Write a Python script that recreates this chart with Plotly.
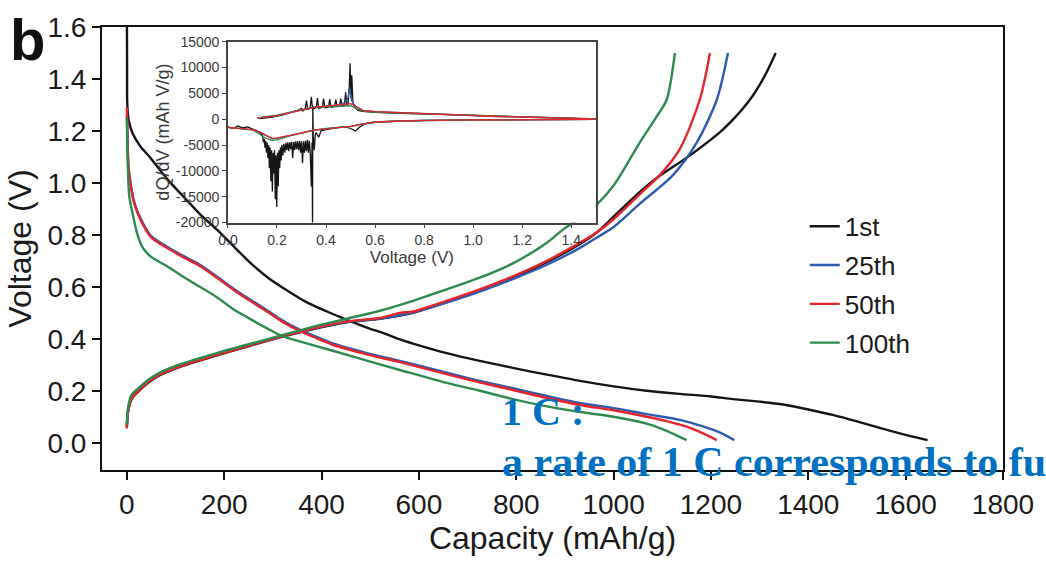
import plotly.graph_objects as go

# ---- Main panel: galvanostatic discharge/charge profiles ----
cycle_names = ["1st", "25th", "50th", "100th"]
cycle_colors = ["#151515", "#2F5CB0", "#E3262D", "#2E8A4F"]

# 1st cycle
dis1_cap = [0, 0.5, 1, 4, 12, 28, 47, 70, 90, 120, 150, 185, 220, 255, 290, 330, 370, 411, 450,
            490, 530, 561, 600, 657, 725, 793, 863, 931, 1000, 1068, 1136, 1200, 1245, 1300,
            1348, 1400, 1450, 1500, 1554, 1600, 1645]
dis1_v = [1.75, 1.45, 1.30, 1.24, 1.19, 1.14, 1.10, 1.045, 1.0, 0.94, 0.88, 0.82, 0.755, 0.69,
          0.635, 0.585, 0.54, 0.505, 0.475, 0.445, 0.42, 0.398, 0.375, 0.345, 0.315, 0.288,
          0.262, 0.238, 0.217, 0.2, 0.188, 0.178, 0.168, 0.158, 0.147, 0.128, 0.107, 0.082,
          0.053, 0.03, 0.01]
chg1_cap = [0, 1, 3, 10, 27, 45, 68, 115, 185, 253, 321, 390, 458, 520, 588, 657, 725, 793, 863,
            931, 966, 1000, 1054, 1088, 1157, 1225, 1280, 1310, 1333]
chg1_v = [0.06, 0.09, 0.125, 0.168, 0.203, 0.233, 0.26, 0.296, 0.336, 0.373, 0.408, 0.44, 0.465,
          0.477, 0.5, 0.54, 0.585, 0.635, 0.695, 0.765, 0.81, 0.87, 0.965, 1.018, 1.106, 1.206,
          1.32, 1.41, 1.5]

# 25th cycle
dis25_cap = [0, 1, 2, 4, 8, 14, 22, 33, 50, 82, 115, 150, 185, 218, 250, 288, 320, 355, 390, 423,
             493, 561, 657, 725, 793, 863, 931, 1000, 1068, 1136, 1180, 1220, 1248]
dis25_v = [1.26, 1.2, 1.12, 1.05, 0.995, 0.935, 0.89, 0.845, 0.795, 0.755, 0.72, 0.685, 0.64,
           0.595, 0.555, 0.51, 0.47, 0.435, 0.407, 0.382, 0.345, 0.315, 0.27, 0.238, 0.21, 0.18,
           0.153, 0.133, 0.11, 0.088, 0.065, 0.038, 0.01]
chg25_cap = [0, 1, 3, 10, 27, 45, 68, 115, 185, 253, 321, 390, 458, 520, 588, 657, 725, 793, 863,
             931, 966, 1000, 1054, 1122, 1171, 1212, 1235]
chg25_v = [0.06, 0.095, 0.13, 0.172, 0.207, 0.237, 0.264, 0.3, 0.34, 0.376, 0.41, 0.442, 0.466,
           0.478, 0.502, 0.54, 0.582, 0.63, 0.685, 0.75, 0.79, 0.83, 0.92, 1.03, 1.156, 1.32, 1.5]

# 50th cycle
dis50_cap = [0, 1, 2, 4, 8, 14, 22, 33, 50, 82, 115, 150, 185, 218, 250, 288, 320, 355, 390, 423,
             493, 561, 657, 725, 793, 863, 931, 1000, 1068, 1109, 1150, 1185, 1212]
dis50_v = [1.29, 1.22, 1.12, 1.05, 0.99, 0.93, 0.885, 0.84, 0.79, 0.75, 0.715, 0.68, 0.635, 0.59,
           0.55, 0.505, 0.465, 0.43, 0.402, 0.377, 0.34, 0.31, 0.264, 0.232, 0.203, 0.172, 0.145,
           0.125, 0.1, 0.083, 0.062, 0.035, 0.01]
chg50_cap = [0, 1, 3, 10, 27, 45, 68, 115, 185, 253, 321, 390, 458, 520, 561, 588, 657, 725, 793,
             863, 931, 966, 1000, 1054, 1095, 1136, 1177, 1198]
chg50_v = [0.055, 0.09, 0.128, 0.17, 0.205, 0.235, 0.262, 0.298, 0.338, 0.375, 0.41, 0.443, 0.468,
           0.48, 0.5, 0.505, 0.546, 0.59, 0.64, 0.70, 0.77, 0.81, 0.86, 0.957, 1.03, 1.13, 1.32, 1.5]

# 100th cycle
dis100_cap = [0, 1, 2, 5, 12, 22, 33, 50, 82, 115, 150, 185, 218, 250, 288, 320, 355, 423, 493,
              561, 657, 725, 793, 863, 931, 1000, 1075, 1110, 1150]
dis100_v = [1.25, 1.15, 1.06, 0.95, 0.88, 0.8, 0.75, 0.715, 0.68, 0.64, 0.60, 0.56, 0.515, 0.48,
            0.44, 0.41, 0.39, 0.354, 0.316, 0.28, 0.23, 0.2, 0.168, 0.14, 0.118, 0.1, 0.07,
            0.045, 0.01]
chg100_cap = [0, 1, 3, 10, 27, 45, 68, 115, 185, 253, 321, 390, 458, 520, 588, 657, 725, 793, 863,
              896, 950, 1000, 1054, 1090, 1109, 1126]
chg100_v = [0.07, 0.1, 0.14, 0.185, 0.215, 0.243, 0.27, 0.305, 0.345, 0.38, 0.415, 0.45, 0.48,
            0.508, 0.546, 0.59, 0.635, 0.69, 0.77, 0.82, 0.89, 0.99, 1.156, 1.26, 1.32, 1.5]

# ---- Inset: differential capacity dQ/dV ----
dq1_chg_v = [0.13, 0.18, 0.22, 0.26, 0.29, 0.30, 0.305, 0.315, 0.32, 0.325, 0.335, 0.34, 0.345,
             0.36, 0.365, 0.37, 0.385, 0.39, 0.395, 0.41, 0.415, 0.42, 0.435, 0.44, 0.445, 0.455,
             0.46, 0.465, 0.475, 0.48, 0.485, 0.49, 0.495, 0.498, 0.502, 0.505, 0.51, 0.52, 0.53,
             0.55, 0.6, 0.7, 0.8, 0.9, 1.0, 1.1, 1.2, 1.3, 1.4, 1.48, 1.5]
dq1_chg = [100, 400, 800, 1300, 1800, 2100, 1600, 2000, 3600, 1900, 2100, 4300, 2000, 2200, 4100,
           2100, 2300, 4000, 2200, 2300, 3900, 2300, 2400, 3800, 2400, 2500, 4000, 2500, 2700,
           5200, 2700, 3000, 6500, 10800, 4000, 8500, 3000, 2200, 1700, 1500, 1300, 1150, 1000,
           850, 700, 550, 450, 320, 200, 120, 0]
dq1_dis_v = [0.0, 0.02, 0.04, 0.06, 0.08, 0.1, 0.12, 0.14, 0.145, 0.148, 0.151, 0.154, 0.157,
             0.16, 0.163, 0.166, 0.169, 0.172, 0.175, 0.178, 0.181, 0.184, 0.187, 0.19, 0.193,
             0.196, 0.199, 0.202, 0.205, 0.208, 0.211, 0.214, 0.217, 0.22, 0.224, 0.228, 0.232,
             0.236, 0.24, 0.244, 0.248, 0.252, 0.256, 0.26, 0.264, 0.268, 0.272, 0.276, 0.28,
             0.284, 0.288, 0.292, 0.296, 0.3, 0.304, 0.308, 0.312, 0.316, 0.32, 0.324, 0.328,
             0.332, 0.336, 0.34, 0.343, 0.345, 0.346, 0.348, 0.352, 0.356, 0.36, 0.37, 0.38,
             0.4, 0.42, 0.45, 0.48, 0.5, 0.52, 0.54, 0.56, 0.6, 0.7, 0.8, 1.0, 1.2, 1.5]
dq1_dis = [-1500, -1800, -1300, -1700, -1500, -1900, -2300, -3000, -4500, -3800, -5500, -4200,
           -6500, -4500, -7500, -5000, -9500, -5500, -12000, -6000, -14000, -6500, -10500,
           -6000, -15500, -7000, -17000, -6500, -13000, -6000, -9500, -5500, -8000, -5000,
           -7000, -4800, -6500, -4600, -6000, -4500, -6200, -4500, -5800, -4400, -7500, -4400,
           -6000, -4300, -5800, -4300, -6000, -4200, -6500, -4300, -8500, -4300, -6500, -4200,
           -6200, -4000, -6500, -4200, -7000, -13000, -4500, -21000, 2500, -3500, -6000, -3000,
           -2600, -3500, -2200, -2000, -1800, -1600, -1500, -1800, -2300, -1400, -900, -600,
           -350, -250, -150, -100, -50]

dq25_chg_v = [0.12, 0.2, 0.25, 0.3, 0.35, 0.4, 0.45, 0.48, 0.49, 0.495, 0.5, 0.505, 0.52, 0.55,
              0.6, 0.7, 0.8, 0.9, 1.0, 1.1, 1.2, 1.3, 1.4, 1.47, 1.5]
dq25_chg = [200, 700, 1200, 1800, 2300, 2500, 2700, 3300, 4200, 6000, 4500, 3500, 2500, 1700,
            1450, 1250, 1100, 850, 680, 520, 420, 300, 180, 100, 0]
dq25_dis_v = [0.0, 0.05, 0.1, 0.13, 0.16, 0.18, 0.2, 0.25, 0.3, 0.35, 0.4, 0.45, 0.5, 0.55, 0.6,
              0.7, 0.8, 1.0, 1.2, 1.5]
dq25_dis = [-1600, -1800, -2000, -2500, -3300, -3800, -3700, -3200, -2700, -2100, -1900, -1700,
            -1400, -900, -550, -350, -230, -150, -100, -50]

dq50_chg_v = [0.12, 0.2, 0.25, 0.3, 0.35, 0.4, 0.45, 0.48, 0.5, 0.52, 0.55, 0.6, 0.7, 0.8, 0.9,
              1.0, 1.1, 1.2, 1.3, 1.4, 1.47, 1.5]
dq50_chg = [200, 700, 1200, 1800, 2300, 2500, 2700, 2900, 3000, 2500, 1700, 1450, 1250, 1100,
            850, 680, 520, 420, 300, 180, 100, 0]
dq50_dis_v = [0.0, 0.05, 0.1, 0.13, 0.16, 0.18, 0.2, 0.25, 0.3, 0.35, 0.4, 0.45, 0.5, 0.55, 0.6,
              0.7, 0.8, 1.0, 1.2, 1.5]
dq50_dis = [-1600, -1800, -2000, -2500, -3300, -3700, -3600, -3200, -2700, -2100, -1900, -1700,
            -1400, -900, -550, -350, -230, -150, -100, -50]

dq100_chg_v = [0.12, 0.2, 0.25, 0.3, 0.35, 0.4, 0.45, 0.5, 0.53, 0.56, 0.6, 0.7, 0.8, 0.9, 1.0,
               1.2, 1.4, 1.5]
dq100_chg = [250, 800, 1300, 1900, 2300, 2400, 2500, 2600, 1900, 1500, 1350, 1200, 1050, 820,
             650, 400, 170, 0]
dq100_dis_v = [0.0, 0.05, 0.1, 0.12, 0.14, 0.16, 0.18, 0.2, 0.22, 0.25, 0.3, 0.35, 0.4, 0.5, 0.6,
               0.8, 1.0, 1.5]
dq100_dis = [-1600, -1800, -2100, -2600, -3300, -3800, -4100, -4000, -3700, -3300, -2700, -2100,
             -1800, -1400, -550, -230, -150, -50]

inset_x_ticks = [0, 0.2, 0.4, 0.6, 0.8, 1.0, 1.2, 1.4]
inset_y_ticks = [-20000, -15000, -10000, -5000, 0, 5000, 10000, 15000]

main_sets = [
    (dis1_cap, dis1_v, chg1_cap, chg1_v),
    (dis25_cap, dis25_v, chg25_cap, chg25_v),
    (dis50_cap, dis50_v, chg50_cap, chg50_v),
    (dis100_cap, dis100_v, chg100_cap, chg100_v),
]
inset_sets = [
    (dq1_dis_v, dq1_dis, dq1_chg_v, dq1_chg),
    (dq25_dis_v, dq25_dis, dq25_chg_v, dq25_chg),
    (dq100_dis_v, dq100_dis, dq100_chg_v, dq100_chg),
    (dq50_dis_v, dq50_dis, dq50_chg_v, dq50_chg),
]
inset_colors = [cycle_colors[0], cycle_colors[1], cycle_colors[3], cycle_colors[2]]

fig = go.Figure()

for name, color, (dc, dv, cc, cv) in zip(cycle_names, cycle_colors, main_sets):
    fig.add_trace(go.Scatter(
        x=dc + [None] + cc, y=dv + [None] + cv, mode="lines", name=name,
        legendgroup=name,
        line=dict(color=color, width=2.4, shape="spline", smoothing=0.8),
        xaxis="x", yaxis="y"))

for color, (dv, dq, cv, cq) in zip(inset_colors, inset_sets):
    fig.add_trace(go.Scatter(
        x=dv + [None] + cv, y=dq + [None] + cq, mode="lines", showlegend=False,
        line=dict(color=color, width=1.3), xaxis="x2", yaxis="y2"))

axis_font = dict(family="Liberation Sans, Arial, sans-serif", color="#1a1a1a")
inset_font = dict(family="Liberation Sans, Arial, sans-serif", color="#3a3a3a")
blue_serif = dict(family="Liberation Serif, Times New Roman, serif", color="#0070C0",
                  weight="bold")

fig.update_layout(
    width=1046, height=562,
    margin=dict(l=102, r=43, t=22, b=87),
    paper_bgcolor="white", plot_bgcolor="white",
    xaxis=dict(
        domain=[0, 1], range=[-51, 1800],
        tickmode="array", tickvals=[0, 200, 400, 600, 800, 1000, 1200, 1400, 1600, 1800],
        ticks="outside", ticklen=8, tickwidth=2, tickcolor="#111",
        showline=True, linewidth=2, linecolor="#111", mirror=True,
        showgrid=False, zeroline=False,
        tickfont=dict(size=28, **axis_font),
        title=dict(text="Capacity (mAh/g)", font=dict(size=32, **axis_font), standoff=8),
    ),
    yaxis=dict(
        domain=[0, 1], range=[-0.105, 1.6],
        tickmode="array", tickvals=[0, 0.2, 0.4, 0.6, 0.8, 1.0, 1.2, 1.4, 1.6],
        tickformat=".1f",
        ticks="outside", ticklen=8, tickwidth=2, tickcolor="#111",
        showline=True, linewidth=2, linecolor="#111", mirror=True,
        showgrid=False, zeroline=False,
        tickfont=dict(size=28, **axis_font),
        title=dict(text="Voltage (V)", font=dict(size=32, **axis_font), standoff=6),
    ),
    xaxis2=dict(
        domain=[0.1398, 0.548], anchor="y2", range=[0, 1.5],
        tickmode="array", tickvals=inset_x_ticks,
        ticktext=[f"{v:.1f}" for v in inset_x_ticks],
        ticks="outside", ticklen=4, tickwidth=1.2, tickcolor="#444",
        showline=True, linewidth=1.5, linecolor="#444", mirror=True,
        showgrid=False, zeroline=False,
        tickfont=dict(size=14, **inset_font),
        title=dict(text="Voltage (V)", font=dict(size=17, **inset_font), standoff=2),
    ),
    yaxis2=dict(
        domain=[0.5585, 0.967], anchor="x2", range=[-20000, 15000],
        tickmode="array", tickvals=inset_y_ticks,
        ticktext=[str(v) for v in inset_y_ticks],
        ticks="outside", ticklen=4, tickwidth=1.2, tickcolor="#444",
        showline=True, linewidth=1.5, linecolor="#444", mirror=True,
        showgrid=False, zeroline=False,
        tickfont=dict(size=14, **inset_font),
        title=dict(text="dQ/dV (mAh V/g)", font=dict(size=18, **inset_font), standoff=2),
    ),
    legend=dict(
        x=0.780, y=0.603, xanchor="left", yanchor="top",
        bgcolor="rgba(0,0,0,0)", borderwidth=0,
        font=dict(size=26, **axis_font),
        traceorder="grouped", tracegroupgap=2,
    ),
    annotations=[
        dict(text="b", xref="paper", yref="paper", x=-0.083, y=0.971,
             xanchor="center", yanchor="middle", showarrow=False,
             font=dict(family="Liberation Sans, Arial, sans-serif", size=58,
                       color="#111", weight="bold")),
        dict(text="1 C :", xref="paper", yref="paper", x=0.4417, y=0.132,
             xanchor="left", yanchor="middle", showarrow=False,
             font=dict(size=40, **blue_serif)),
        dict(text="a rate of 1 C corresponds to full discharge in 1 h",
             xref="paper", yref="paper", x=0.4417, y=0.018,
             xanchor="left", yanchor="middle", showarrow=False,
             font=dict(size=42, **blue_serif)),
    ],
)

fig.write_html("out.html")
